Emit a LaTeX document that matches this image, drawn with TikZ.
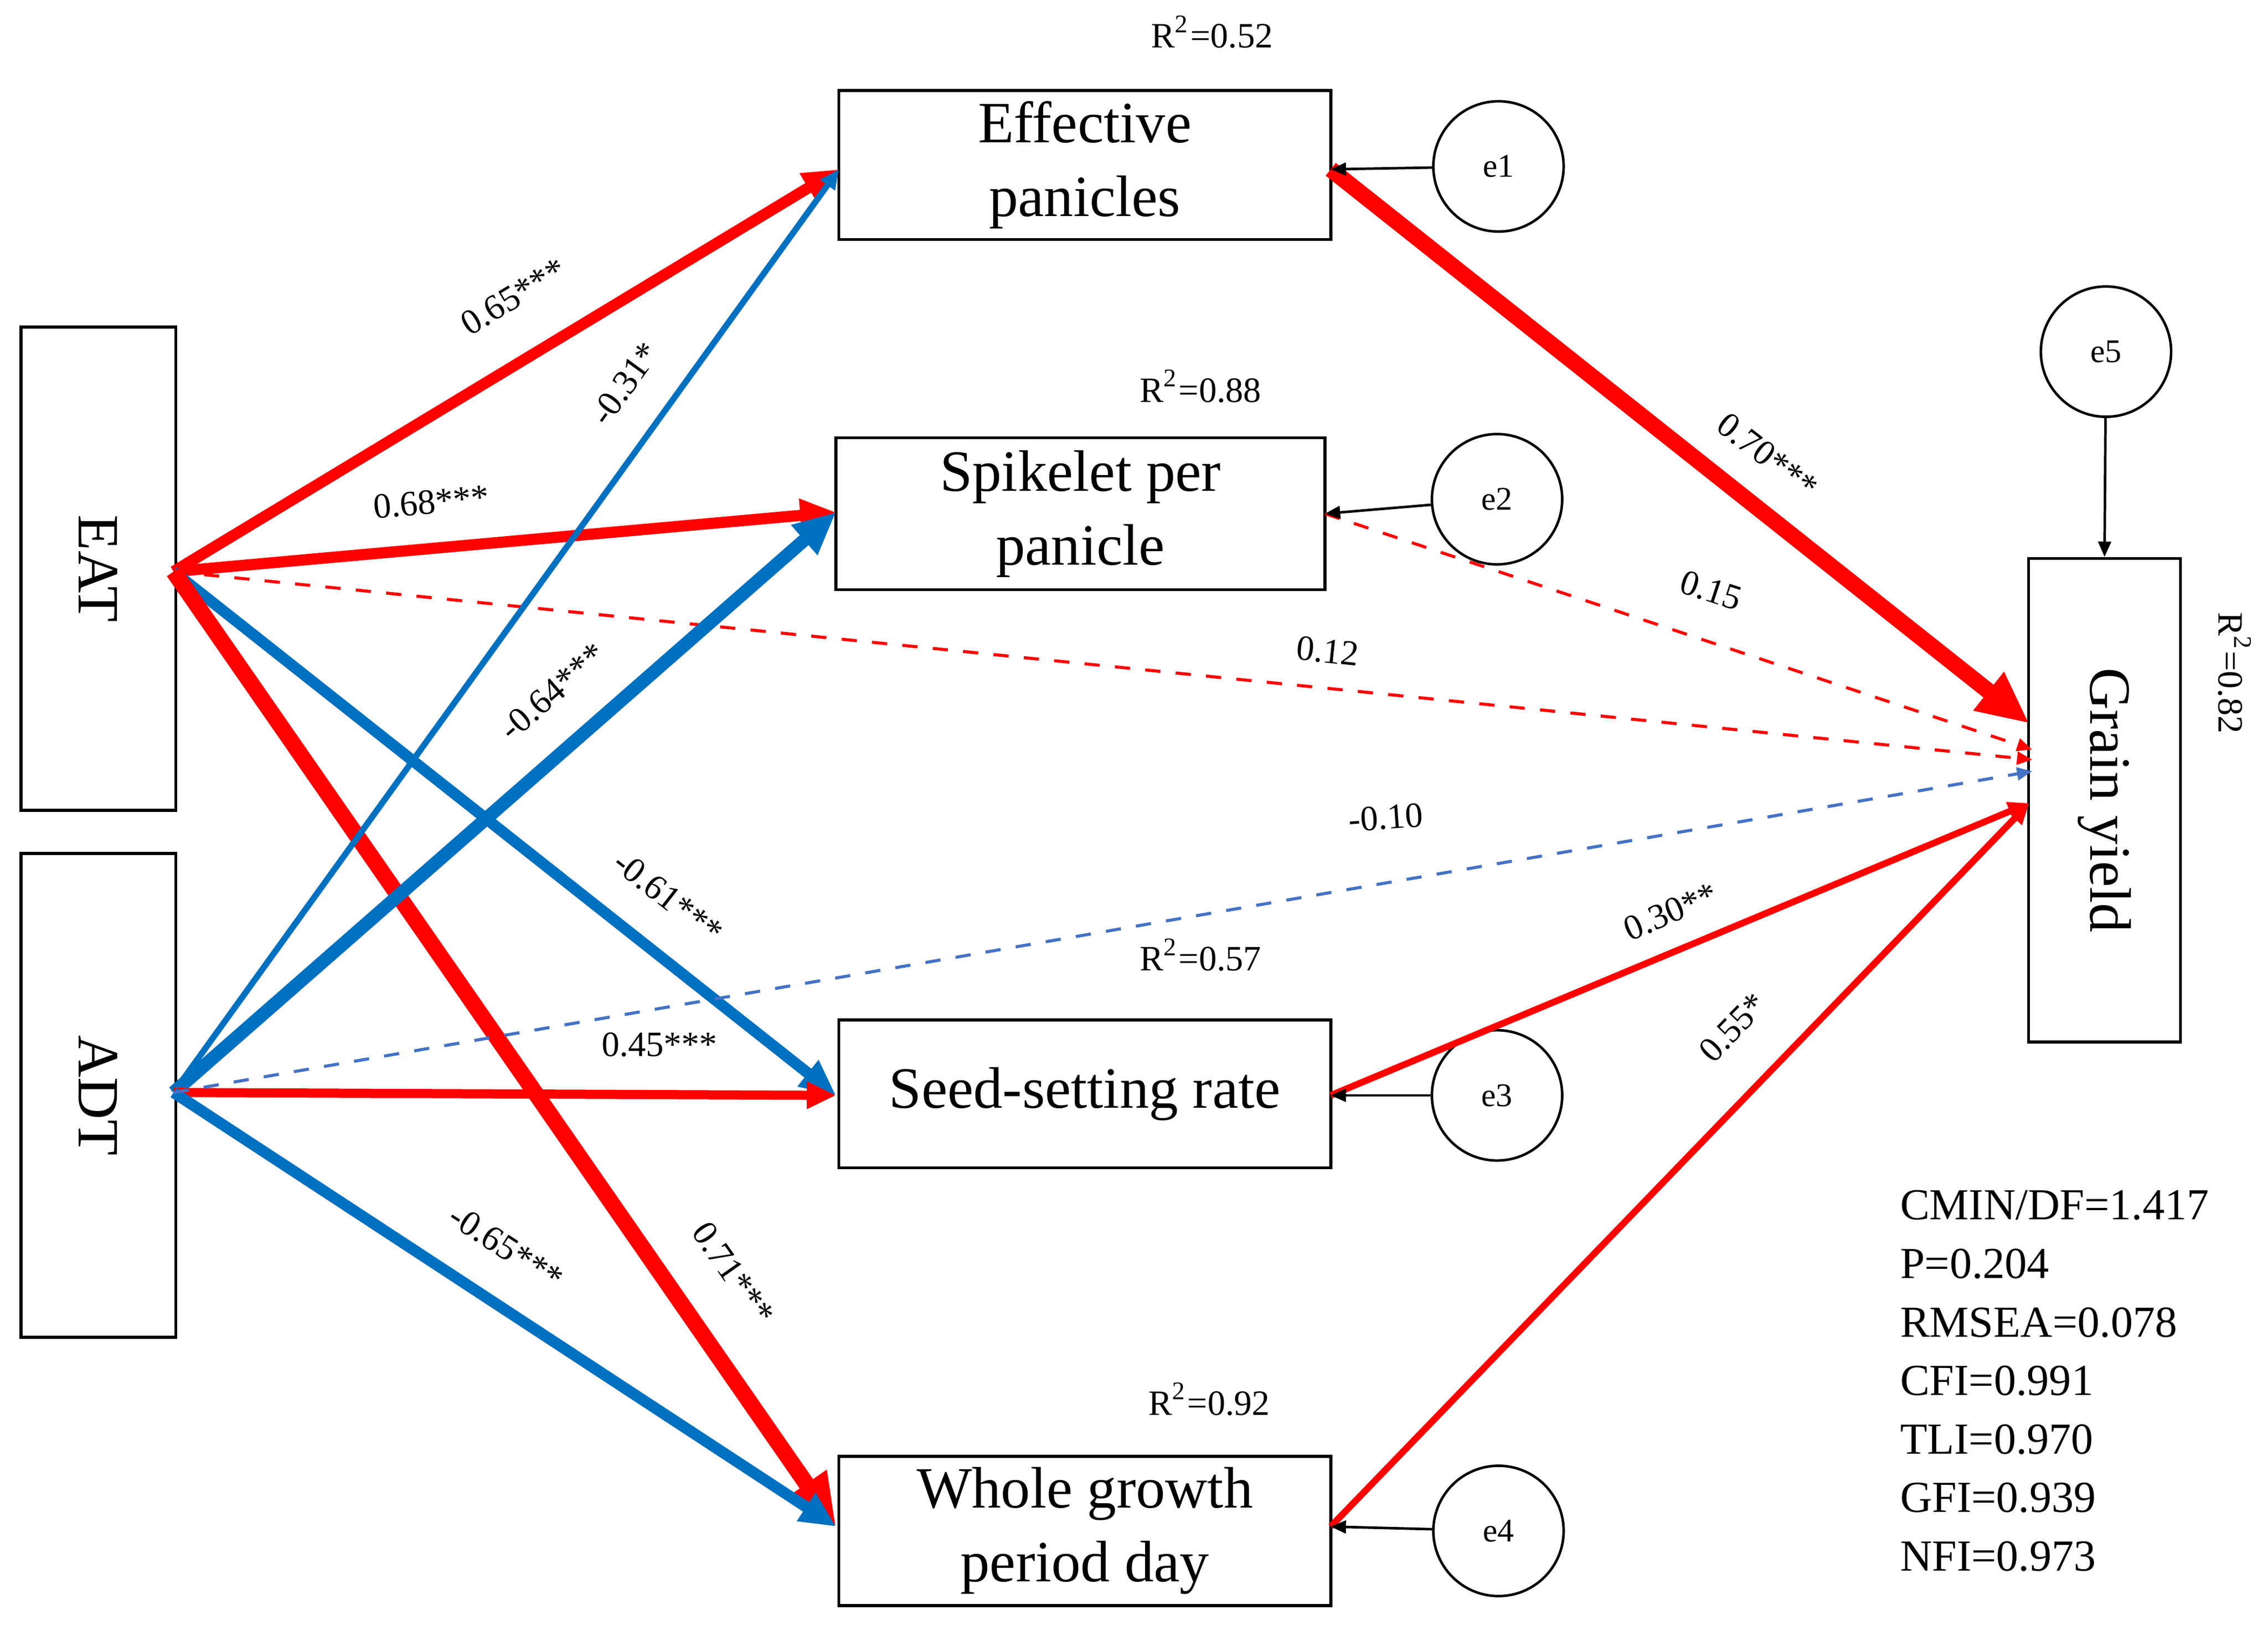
\documentclass[tikz,border=0pt]{standalone}
\usepackage{fontspec}
\setmainfont{Liberation Serif}
\usetikzlibrary{arrows.meta}
\definecolor{rd}{RGB}{255,0,0}
\definecolor{bl}{RGB}{0,112,192}
\definecolor{lb}{RGB}{68,114,196}
\begin{document}
\begin{tikzpicture}[x=0.01cm,y=-0.01cm,
  box/.style={draw,line width=0.6pt,inner sep=0pt,align=center,font=\fontsize{11.5}{14.5}\selectfont},
  err/.style={draw,circle,line width=0.5pt,minimum size=0.9cm,inner sep=0pt,font=\fontsize{6.5}{7}\selectfont},
  lab/.style={font=\fontsize{7}{8}\selectfont,inner sep=0pt},
  rr/.style={font=\fontsize{7}{8}\selectfont,inner sep=0pt},
  ar/.style={-{Triangle[length=0pt 3.2,width=0pt 2.8]}},
  tiny/.style={line width=0.5pt,-{Triangle[length=3pt,width=2.5pt]}}]
\useasboundingbox (0,0) rectangle (1568,1123);
% boxes
\node[box,minimum width=1.07cm,minimum height=3.34cm] (eat) at (68,393) {\rotatebox{-90}{EAT}};
\node[box,minimum width=1.07cm,minimum height=3.34cm] (adt) at (68,757) {\rotatebox{-90}{ADT}};
\node[box,minimum width=3.4cm,minimum height=1.03cm] (eff) at (750,114) {Effective\\panicles};
\node[box,minimum width=3.38cm,minimum height=1.05cm] (spk) at (747,355) {Spikelet per\\panicle};
\node[box,minimum width=3.4cm,minimum height=1.02cm] (seed) at (750,756) {Seed-setting rate};
\node[box,minimum width=3.4cm,minimum height=1.03cm] (whole) at (750,1058) {Whole growth\\period day};
\node[box,minimum width=1.05cm,minimum height=3.34cm] (gy) at (1455,553) {\rotatebox{-90}{Grain yield}};
% errors
\node[err] (e1) at (1036,115) {e1};
\node[err] (e2) at (1035,345) {e2};
\node[err] (e3) at (1035,757) {e3};
\node[err] (e4) at (1036,1058) {e4};
\node[err] (e5) at (1456,243) {e5};
% anchor points
\coordinate (ep) at (120,395);
\coordinate (ap) at (120,755);
\coordinate (effw) at (580,117);
\coordinate (spkw) at (578,354);
\coordinate (seedw) at (578,757);
\coordinate (wholew) at (578,1055);
\coordinate (effe) at (920,117);
\coordinate (spke) at (916,355);
\coordinate (seede) at (920,757);
\coordinate (wholee) at (920,1055);
\coordinate (g1) at (1403,500);
\coordinate (g2) at (1405,518);
\coordinate (g3) at (1405,525);
\coordinate (g4) at (1405,533);
\coordinate (g5) at (1403,555);
% paths
\draw[ar,rd,line width=2.2pt] (ep) -- (effw);
\draw[ar,rd,line width=2.2pt] (ep) -- (spkw);
\draw[ar,bl,line width=2.2pt] (ep) -- (seedw);
\draw[ar,rd,line width=3.2pt] (ep) -- (wholew);
\draw[tiny,rd,dashed,line width=0.6pt] (ep) -- (g3);
\draw[ar,bl,line width=1.2pt] (ap) -- (effw);
\draw[ar,bl,line width=2.6pt] (ap) -- (spkw);
\draw[ar,rd,line width=1.8pt] (ap) -- (seedw);
\draw[ar,bl,line width=2.2pt] (ap) -- (wholew);
\draw[tiny,lb,dashed,line width=0.6pt] (ap) -- (g4);
\draw[ar,rd,line width=3.2pt] (effe) -- (g1);
\draw[tiny,rd,dashed,line width=0.6pt] (spke) -- (g2);
\draw[ar,rd,line width=1.3pt] (seede) -- (g5);
\draw[ar,rd,line width=1.3pt] (wholee) -- (g5);
\draw[tiny,black] (e1) -- (effe);
\draw[tiny,black] (e2) -- (spke);
\draw[tiny,black] (e3) -- (seede);
\draw[tiny,black] (e4) -- (wholee);
\draw[tiny,black] (e5) -- (gy.north);
% labels
\node[lab,rotate=31] at (355,205) {0.65***};
\node[lab,rotate=5] at (298,347) {0.68***};
\node[lab,rotate=-38] at (462,620) {-0.61***};
\node[lab,rotate=-55] at (507,880) {0.71***};
\node[lab,rotate=-6] at (918,450) {0.12};
\node[lab,rotate=54] at (432,265) {-0.31*};
\node[lab,rotate=41] at (382,478) {-0.64***};
\node[lab] at (456,722) {0.45***};
\node[lab,rotate=-33] at (350,862) {-0.65***};
\node[lab,rotate=4] at (958,565) {-0.10};
\node[lab,rotate=-38] at (1222,315) {0.70***};
\node[lab,rotate=-18] at (1183,408) {0.15};
\node[lab,rotate=23] at (1155,630) {0.30**};
\node[lab,rotate=46] at (1198,710) {0.55*};
% R2
\node[rr] at (838,22) {R\textsuperscript{2}=0.52};
\node[rr] at (830,267) {R\textsuperscript{2}=0.88};
\node[rr] at (830,660) {R\textsuperscript{2}=0.57};
\node[rr] at (836,967) {R\textsuperscript{2}=0.92};
\node[rr,rotate=-90] at (1545,465) {R\textsuperscript{2}=0.82};
% stats
\node[anchor=north west,align=left,inner sep=0pt,font=\fontsize{8.7}{11.5}\selectfont] (fit) at (1313,822) {CMIN/DF=1.417\\P=0.204\\RMSEA=0.078\\CFI=0.991\\TLI=0.970\\GFI=0.939\\NFI=0.973};
\end{tikzpicture}
\end{document}
